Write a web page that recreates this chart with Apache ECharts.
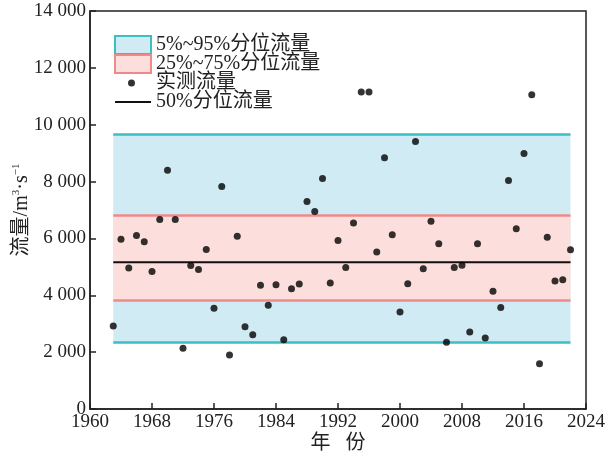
<!DOCTYPE html>
<html>
<head>
<meta charset="utf-8">
<script src="https://cdn.jsdelivr.net/npm/echarts@6/dist/echarts.min.js"></script>
<style>html,body{margin:0;padding:0;background:#fff}#c{width:614px;height:457px}</style>
</head>
<body>
<div id="c"></div>
<script>
// Observed annual flow (m3/s), 1963-2022
const years = [1963,1964,1965,1966,1967,1968,1969,1970,1971,1972,1973,1974,1975,1976,1977,1978,1979,1980,1981,1982,1983,1984,1985,1986,1987,1988,1989,1990,1991,1992,1993,1994,1995,1996,1997,1998,1999,2000,2001,2002,2003,2004,2005,2006,2007,2008,2009,2010,2011,2012,2013,2014,2015,2016,2017,2018,2019,2020,2021,2022];
const flows = [2920,5970,4960,6100,5880,4840,6670,8400,6670,2140,5050,4910,5610,3540,7830,1900,6080,2890,2610,4350,3650,4370,2440,4230,4400,7300,6950,8110,4430,5930,4980,6540,11150,11150,5520,8840,6130,3410,4410,9410,4930,6600,5810,2350,4980,5060,2710,5810,2500,4140,3570,8040,6340,8990,11050,1590,6040,4500,4550,5600];
// Percentile levels
const bandYears = [1963, 2022];
const q05 = 2340, q95 = 9650, q25 = 3830, q75 = 6800, q50 = 5160;
// Axis ticks
const xTicks = [1960, 1968, 1976, 1984, 1992, 2000, 2008, 2016, 2024];
const yMin = 0, yMax = 14000, yStep = 2000;

const names = ['5%~95%分位流量', '25%~75%分位流量', '实测流量', '50%分位流量'];
const serif = '"Liberation Serif", "Noto Sans CJK SC", serif';
const fmt = v => v >= 1000 ? Math.floor(v / 1000) + ' ' + String(v % 1000).padStart(3, '0') : String(v);

function band(lo, hi, fill, line) {
  return {
    markArea: { silent: true, itemStyle: { color: fill },
      data: [[{ coord: [bandYears[0], hi] }, { coord: [bandYears[1], lo] }]] },
    markLine: { silent: true, symbol: 'none', label: { show: false },
      lineStyle: { color: line, width: 2.5, type: 'solid' },
      data: [[{ coord: [bandYears[0], hi] }, { coord: [bandYears[1], hi] }],
             [{ coord: [bandYears[0], lo] }, { coord: [bandYears[1], lo] }]] }
  };
}

const chart = echarts.init(document.getElementById('c'), null, { renderer: 'canvas' });
chart.setOption({
  animation: false,
  grid: { left: 90, right: 28, top: 11, bottom: 48, outerBoundsMode: 'none', containLabel: false,
    show: true, borderColor: '#222', borderWidth: 1.5, backgroundColor: 'transparent' },
  legend: {
    orient: 'vertical', left: 109, top: 30, itemWidth: 36, itemHeight: 18, itemGap: -1,
    selectedMode: false,
    textStyle: { fontFamily: serif, fontSize: 20, color: '#222', lineHeight: 18 },
    data: [
      { name: names[0], icon: 'rect', itemStyle: { color: '#d1ebf4', borderColor: '#3cbfc2', borderWidth: 2 } },
      { name: names[1], icon: 'rect', itemStyle: { color: '#fcdfdc', borderColor: '#f08a8a', borderWidth: 2 } },
      { name: names[2], icon: 'path://M0,0L0.01,0M36,18L35.99,18M13,9a3.5,3.5,0,1,0,7,0a3.5,3.5,0,1,0,-7,0z', itemStyle: { color: '#000' } },
      { name: names[3], icon: 'path://M0,0h36v2h-36z', itemStyle: { color: '#111' } }
    ]
  },
  xAxis: {
    type: 'value', min: xTicks[0], max: xTicks[xTicks.length - 1], interval: 8,
    name: '年   份', nameLocation: 'middle', nameGap: 25, nameMoveOverlap: false,
    nameTextStyle: { fontFamily: serif, fontSize: 20, color: '#222' },
    axisLine: { lineStyle: { color: '#222', width: 1.5 } },
    axisTick: { inside: true, length: 6, lineStyle: { color: '#222', width: 1.5 } },
    axisLabel: { fontFamily: serif, fontSize: 19, color: '#222', margin: 4, formatter: v => String(v) },
    splitLine: { show: false }
  },
  yAxis: {
    type: 'value', min: yMin, max: yMax, interval: yStep,
    name: '{a|流量/m}{s|3}{a|·s}{s|−1}', nameLocation: 'middle', nameGap: 57, nameRotate: 90, nameMoveOverlap: false,
    nameTextStyle: { rich: {
      a: { fontFamily: serif, fontSize: 20, color: '#222', lineHeight: 22 },
      s: { fontFamily: serif, fontSize: 11, color: '#222', lineHeight: 12, verticalAlign: 'top' }
    } },
    axisLine: { lineStyle: { color: '#222', width: 1.5 } },
    axisTick: { inside: true, length: 6, lineStyle: { color: '#222', width: 1.5 } },
    axisLabel: { fontFamily: serif, fontSize: 19, color: '#222', margin: 4, formatter: fmt },
    splitLine: { show: false }
  },
  series: [
    Object.assign({ name: names[0], type: 'line', data: [], color: '#3cbfc2', z: 1 }, band(q05, q95, '#d1ebf4', '#3cbfc2')),
    Object.assign({ name: names[1], type: 'line', data: [], color: '#f08a8a', z: 2 }, band(q25, q75, '#fcdfdc', '#f08a8a')),
    { name: names[2], type: 'scatter', data: years.map((y, i) => [y, flows[i]]), symbol: 'circle', symbolSize: 7, itemStyle: { color: '#000' }, z: 5 },
    { name: names[3], type: 'line', data: bandYears.map(y => [y, q50]), symbol: 'none', showSymbol: false, lineStyle: { color: '#111', width: 2 }, color: '#111', z: 3 }
  ]
});
</script>
</body>
</html>
